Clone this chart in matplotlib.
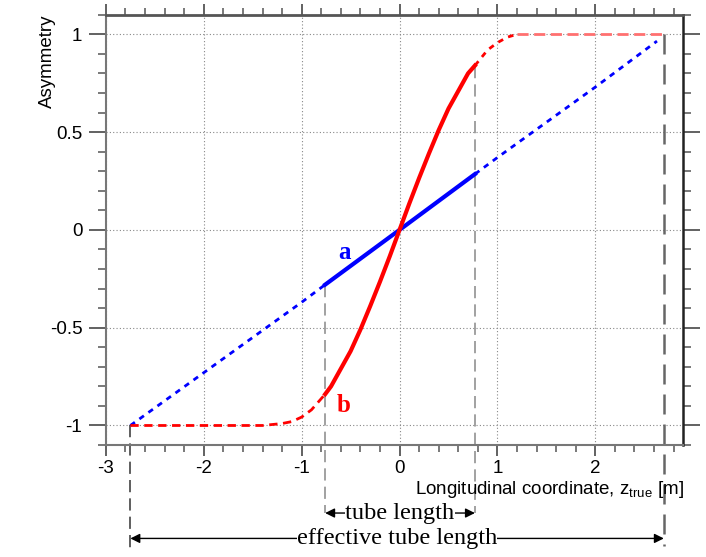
import matplotlib
matplotlib.use('Agg')
import matplotlib.pyplot as plt
from matplotlib.ticker import MultipleLocator, FuncFormatter
import numpy as np

# tube ends and effective tube ends, z [m]
tube_ends = [-0.76, 0.77]
eff_ends = [-2.75, 2.70]

# curve a (blue)
a_z = [-2.75, -2.0, -1.0, -0.76, 0.0, 0.77, 1.0, 2.0, 2.63]
a_asym = [-1.0, -0.73, -0.37, -0.28, 0.0, 0.285, 0.37, 0.73, 0.965]

# curve b (red)
b_z = [-2.75, -1.4, -1.2, -1.1, -1.0, -0.9, -0.76, -0.7, -0.6, -0.5, -0.4, -0.3, -0.2, -0.1,
       0.0, 0.1, 0.2, 0.3, 0.4, 0.5, 0.6, 0.7, 0.77, 0.9, 1.0, 1.1, 1.2, 1.4, 2.73]
b_asym = [-1.0, -1.0, -0.99, -0.98, -0.957, -0.92, -0.84, -0.80, -0.71, -0.62, -0.51, -0.39, -0.265, -0.135,
          0.0, 0.135, 0.265, 0.39, 0.51, 0.62, 0.71, 0.80, 0.84, 0.92, 0.957, 0.985, 1.0, 1.0, 1.0]

x_ticks = [-3, -2, -1, 0, 1, 2]
y_ticks = [-1, -0.5, 0, 0.5, 1]

XLIM = (-3, 2.9)
YLIM = (-1.1, 1.1)

plt.rcParams['axes.unicode_minus'] = False
plt.rcParams['mathtext.fontset'] = 'custom'
plt.rcParams['mathtext.rm'] = 'Liberation Sans'
plt.rcParams['mathtext.it'] = 'Liberation Sans'

SANS = 'Liberation Sans'
SERIF = 'Liberation Serif'
FS = 13.5


def split(z, v, lo, hi):
    z = np.asarray(z)
    v = np.asarray(v)
    inside = (z >= lo) & (z <= hi)
    left = z <= lo
    right = z >= hi
    return (z[left], v[left]), (z[inside], v[inside]), (z[right], v[right])


def frac_to_y(f):
    # axes fraction -> data y, for guide lines running below the axes
    return YLIM[0] + f * (YLIM[1] - YLIM[0])


def main():
    fig = plt.figure(figsize=(7.06, 5.57), dpi=100)
    ax = fig.add_axes([0.150, 0.201, 0.818, 0.7726])
    ax.set_xlim(*XLIM)
    ax.set_ylim(*YLIM)

    ax.grid(True, which='major', linestyle=(0, (1, 2)), color='#888888', lw=0.8)
    ax.set_xticks(x_ticks)
    ax.set_yticks(y_ticks)
    ax.xaxis.set_minor_locator(MultipleLocator(0.2))
    ax.yaxis.set_minor_locator(MultipleLocator(0.1))
    fmt = FuncFormatter(lambda v, p: '%g' % v)
    ax.xaxis.set_major_formatter(fmt)
    ax.yaxis.set_major_formatter(fmt)
    ax.tick_params(which='both', direction='out', top=True, right=True, color='#555555',
                   labelsize=FS, labelfontfamily=SANS)
    ax.tick_params(axis='x', which='major', length=8, width=1.3, pad=3)
    ax.tick_params(axis='x', which='minor', length=5, width=1.1)
    ax.tick_params(axis='y', which='major', length=12, width=1.3, pad=5)
    ax.tick_params(axis='y', which='minor', length=6, width=1.1)
    for s, c, w in [('top', '#555555', 2.0), ('right', '#222222', 1.8),
                    ('left', '#777777', 1.5), ('bottom', '#777777', 1.5)]:
        ax.spines[s].set_color(c)
        ax.spines[s].set_linewidth(w)

    lo, hi = tube_ends

    # curve a
    la, ia, ra = split(a_z, a_asym, lo, hi)
    for seg in (la, ra):
        ax.plot(*seg, color='#0000ff', lw=2, linestyle=(0, (2, 2)), zorder=3)
    ax.plot(*ia, color='#0000ff', lw=3, zorder=4)

    # curve b
    lb, ib, rb = split(b_z, b_asym, lo, hi)
    ax.plot(*lb, color='#ff0000', lw=2, linestyle=(0, (3, 2)), zorder=3)
    rz, rv = rb
    up = rz <= 1.2
    ax.plot(rz[up], rv[up], color='#ff0000', lw=2, linestyle=(0, (2, 2)), zorder=3)
    ax.plot(rz[rz >= 1.2], rv[rz >= 1.2], color='#ff7070', lw=2, linestyle=(0, (4, 2)), zorder=3)
    ax.plot(*ib, color='#ff0000', lw=3, zorder=4)

    # guide lines
    a_at = dict(zip(a_z, a_asym))
    b_at = dict(zip(b_z, b_asym))
    ax.plot([lo, lo], [a_at[lo], frac_to_y(-0.158)], color='#888888', lw=1.1,
            linestyle=(0, (8, 4)), clip_on=False, zorder=2)
    ax.plot([hi, hi], [b_at[hi], frac_to_y(-0.158)], color='#888888', lw=1.1,
            linestyle=(0, (8, 4)), clip_on=False, zorder=2)
    e0, e1 = eff_ends
    ax.plot([e0, e0], [a_at[e0], frac_to_y(-0.24)], color='#333333', lw=1.1,
            linestyle=(0, (8, 4)), clip_on=False, zorder=2)
    ax.plot([e1, e1], [max(b_asym), frac_to_y(-0.235)], color='#666666', lw=1.8,
            linestyle=(0, (8, 4)), clip_on=False, zorder=2)

    # curve labels
    ax.text(-0.56, -0.114, 'a', color='#0000ff', fontsize=18, fontweight='bold',
            family=SERIF, ha='center', va='center', zorder=5)
    ax.text(-0.57, -0.90, 'b', color='#ff0000', fontsize=18, fontweight='bold',
            family=SERIF, ha='center', va='center', zorder=5)

    # axis labels
    ax.text(-0.102, 0.892, 'Asymmetry', rotation=90, ha='center', va='center',
            transform=ax.transAxes, fontsize=FS, family=SANS)
    ax.text(1.0, -0.113, r'Longitudinal coordinate, z$_{\mathrm{true}}$ [m]', ha='right',
            va='baseline', transform=ax.transAxes, fontsize=FS, family=SANS)

    # length arrows
    tr = ax.get_xaxis_transform()
    for (x0, x1), yf, label in [(tube_ends, -0.158, 'tube length'),
                                (eff_ends, -0.217, 'effective tube length')]:
        ax.annotate('', xy=(x0, yf), xytext=(x1, yf), xycoords=tr, textcoords=tr,
                    annotation_clip=False,
                    arrowprops=dict(arrowstyle='<|-|>', color='black', lw=1,
                                    shrinkA=0, shrinkB=0, mutation_scale=14))
        ax.text((x0 + x1) / 2, yf, label, transform=tr, ha='center', va='center',
                fontsize=17.5, family=SERIF, clip_on=False, zorder=6,
                bbox=dict(facecolor='white', edgecolor='none', pad=0))

    plt.savefig('out.png', dpi=100)


if __name__ == "__main__":
    main()
